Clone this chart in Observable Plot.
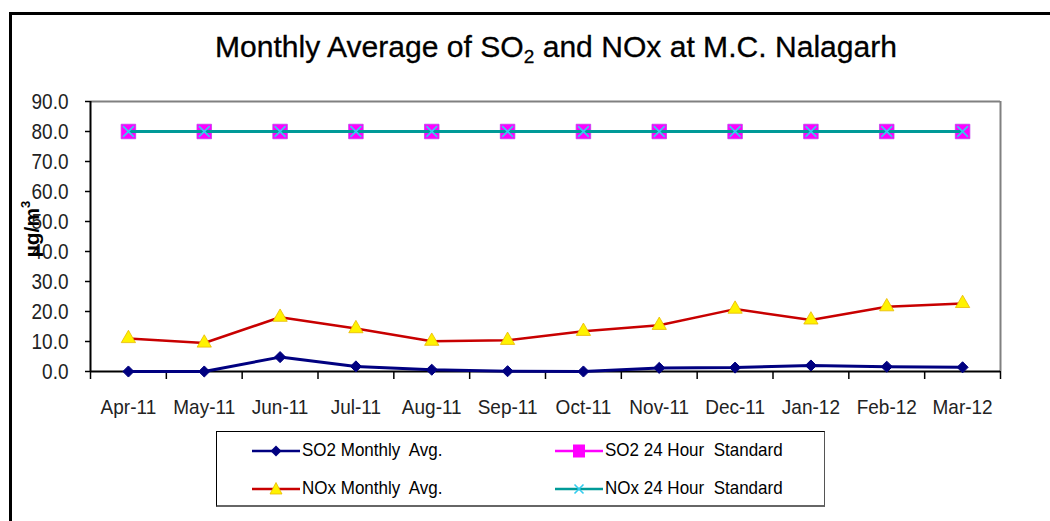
<!DOCTYPE html>
<html><head><meta charset="utf-8">
<script src="https://cdn.jsdelivr.net/npm/d3@7"></script>
<script src="https://cdn.jsdelivr.net/npm/@observablehq/plot@0.6"></script>
<style>
body{margin:0;background:#fff;font-family:"Liberation Sans",Arial,sans-serif;}
#wrap{position:relative;width:1050px;height:521px;overflow:hidden;background:#fff;}
#frame{position:absolute;left:9px;top:12px;width:1100px;height:600px;border-left:3px solid #000;border-top:3px solid #000;}
#title{position:absolute;left:215px;top:32px;font-size:30px;line-height:30px;white-space:nowrap;transform-origin:0 0;color:#000;-webkit-text-stroke:0.3px #000;}
#title sub{font-size:19px;vertical-align:-6px;line-height:0;}
#chart{position:absolute;left:0;top:70px;}
#ylab{position:absolute;left:32px;top:229px;transform:translate(-50%,-50%) rotate(-90deg);font-weight:bold;font-size:21px;white-space:nowrap;}
#ylab sup{font-size:13px;vertical-align:9px;line-height:0;}
#legend{position:absolute;left:216px;top:431px;width:607px;height:73px;border:1.5px solid #000;border-right-color:#555;border-bottom:2px solid #666;background:#fff;}
.item{position:absolute;display:flex;align-items:center;font-size:17px;white-space:pre;height:24px;}
.item span{display:inline-block;transform:scaleY(1.08);}
.item svg{display:block;margin-right:2px;}
</style></head>
<body>
<div id="wrap">
  <div id="frame"></div>
  <div id="title">Monthly Average of SO<sub>2</sub> and NOx at M.C. Nalagarh</div>
  <div id="chart"></div>
  <div id="ylab">µg/m<sup>3</sup></div>
  <div id="legend"></div>
</div>
<script>
const months = ["Apr-11","May-11","Jun-11","Jul-11","Aug-11","Sep-11","Oct-11","Nov-11","Dec-11","Jan-12","Feb-12","Mar-12"];
const so2Monthly = [0.0, 0.0, 4.8, 1.7, 0.6, 0.1, 0.0, 1.2, 1.3, 2.0, 1.6, 1.4];
const noxMonthly = [11.0, 9.5, 18.1, 14.3, 10.1, 10.4, 13.4, 15.4, 20.8, 17.2, 21.6, 22.7];
const so2Standard = [80, 80, 80, 80, 80, 80, 80, 80, 80, 80, 80, 80];
const noxStandard = [80, 80, 80, 80, 80, 80, 80, 80, 80, 80, 80, 80];
const yTicks = [0, 10, 20, 30, 40, 50, 60, 70, 80, 90];
const seriesNames = ["SO2 Monthly  Avg.", "SO2 24 Hour  Standard", "NOx Monthly  Avg.", "NOx 24 Hour  Standard"];

const C = {so2:"#000080", so2Std:"#FF00FF", nox:"#C80000", noxStd:"#009A98", tri:"#FFF200", x:"#33CCEE"};

const data = months.map((m, i) => ({i, m, so2: so2Monthly[i], nox: noxMonthly[i], so2Std: so2Standard[i], noxStd: noxStandard[i]}));
const idx = months.map((_, i) => i);
const bounds = months.map((_, i) => i - 0.5).concat([months.length - 0.5]);

const chart = Plot.plot({
  width: 1050, height: 360,
  marginLeft: 90, marginRight: 50, marginTop: 31, marginBottom: 59,
  x: {domain: [-0.5, months.length - 0.5]},
  y: {domain: [0, 90]},
  style: {fontFamily: '"Liberation Sans", Arial, sans-serif', fontSize: "19px", color: "#000", background: "transparent", overflow: "visible"},
  marks: [
    Plot.ruleY([90], {stroke: "#808080", strokeWidth: 2}),
    Plot.ruleX([months.length - 0.5], {stroke: "#808080", strokeWidth: 2}),
    Plot.axisY({ticks: yTicks, tickSize: 5, tickPadding: 17, tickFormat: d3.format(".1f"), label: null, strokeWidth: 1.5, fill: "#222", className: "ylabels"}),
    Plot.axisX({ticks: bounds, tickSize: 8, tickFormat: () => "", label: null, strokeWidth: 1.5}),
    Plot.axisX({ticks: idx, tickSize: 0, tickPadding: 28, tickFormat: i => months[i], label: null, fill: "#222", className: "xlabels"}),
    Plot.ruleX([-0.5], {stroke: "#000", strokeWidth: 2}),
    Plot.ruleY([0], {stroke: "#000", strokeWidth: 2}),
    // SO2 standard
    Plot.lineY(data, {x: "i", y: "so2Std", stroke: C.so2Std, strokeWidth: 2.5}),
    Plot.dot(data, {x: "i", y: "so2Std", symbol: "square", r: 8.2, fill: C.so2Std, stroke: "#C040F0", strokeWidth: 0.8}),
    // NOx standard
    Plot.lineY(data, {x: "i", y: "noxStd", stroke: C.noxStd, strokeWidth: 3}),
    Plot.dot(data, {x: "i", y: "noxStd", symbol: "times", r: 5, stroke: C.x, strokeWidth: 1.6}),
    // NOx monthly
    Plot.lineY(data, {x: "i", y: "nox", stroke: C.nox, strokeWidth: 2.5}),
    Plot.dot(data, {x: "i", y: "nox", symbol: "triangle", r: 5.3, fill: C.tri, stroke: "#E8B800", strokeWidth: 0.8}),
    // SO2 monthly
    Plot.lineY(data, {x: "i", y: "so2", stroke: C.so2, strokeWidth: 3}),
    Plot.dot(data, {x: "i", y: "so2", symbol: "diamond2", r: 5, fill: C.so2, stroke: C.so2, strokeWidth: 1})
  ]
});
document.getElementById("chart").appendChild(chart);

// stretch tick label glyphs vertically, as in the reference
const stretch = (sel, k) => chart.querySelectorAll(sel + " text").forEach(t => {
  const tr = t.getAttribute("transform") || "";
  t.setAttribute("transform", tr + ` scale(1,${k})`);
});
stretch("g.ylabels", 1.2);
stretch("g.xlabels", 1.1);

// fit title width to reference extent
const title = document.getElementById("title");
const tw = title.getBoundingClientRect().width;
title.style.transform = `scaleX(${682 / tw})`;

// legend
const legend = document.getElementById("legend");
const swatch = (line, marker) => {
  const ns = "http://www.w3.org/2000/svg";
  const s = document.createElementNS(ns, "svg");
  s.setAttribute("width", 48); s.setAttribute("height", 20);
  s.innerHTML = `<line x1="0" x2="48" y1="10" y2="10" stroke="${line}" stroke-width="2.5"/>` + marker;
  return s;
};
const markers = [
  `<path d="M24,4.5L29.5,10L24,15.5L18.5,10Z" fill="${C.so2}"/>`,
  `<rect x="18" y="3.5" width="12" height="13" fill="${C.so2Std}"/>`,
  `<path d="M24,3.5L30,15L18,15Z" fill="${C.tri}" stroke="#E8B800" stroke-width="0.8"/>`,
  `<path d="M19.5,5.5L28.5,14.5M28.5,5.5L19.5,14.5" stroke="${C.x}" stroke-width="1.6"/>`
];
const lineCols = [C.so2, C.so2Std, C.nox, C.noxStd];
const pos = [[35, 7], [338, 7], [35, 45], [338, 45]];
seriesNames.forEach((name, k) => {
  const d = document.createElement("div");
  d.className = "item";
  d.style.left = pos[k][0] + "px"; d.style.top = pos[k][1] + "px";
  d.appendChild(swatch(lineCols[k], markers[k]));
  const t = document.createElement("span"); t.textContent = name; d.appendChild(t);
  legend.appendChild(d);
});
</script>
</body></html>
